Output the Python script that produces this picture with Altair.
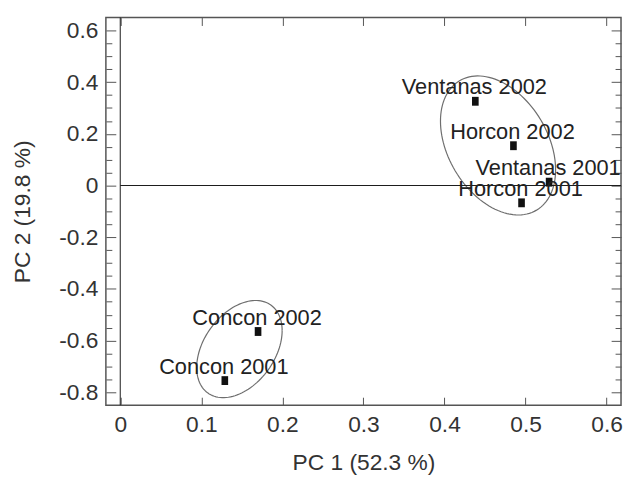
import altair as alt
import numpy as np
import pandas as pd

# ---- data ----
labels = ["Ventanas 2002", "Horcon 2002", "Ventanas 2001", "Horcon 2001", "Concon 2002", "Concon 2001"]
pc1 = [0.438, 0.485, 0.529, 0.495, 0.170, 0.129]
pc2 = [0.326, 0.154, 0.013, -0.067, -0.565, -0.755]

# group ellipses (centre, half-width, half-height, tilt correlation)
ell_group = ["Ventanas/Horcon", "Concon"]
ell_cx = [0.466, 0.147]
ell_cy = [0.155, -0.633]
ell_sx = [0.071, 0.0527]
ell_sy = [0.269, 0.188]
ell_rho = [-0.35, 0.38]

x_ticks = [0, 0.1, 0.2, 0.3, 0.4, 0.5, 0.6]
y_ticks = [-0.8, -0.6, -0.4, -0.2, 0, 0.2, 0.4, 0.6]
y_minor = [-0.8, -0.75, -0.7, -0.65, -0.6, -0.55, -0.5, -0.45, -0.4, -0.35, -0.3,
           -0.25, -0.2, -0.15, -0.1, -0.05, 0, 0.05, 0.1, 0.15, 0.2, 0.25, 0.3,
           0.35, 0.4, 0.45, 0.5, 0.55, 0.6]
x_domain = [-0.0177, 0.6177]
y_domain = [-0.85, 0.65]
x_title = "PC 1 (52.3 %)"
y_title = "PC 2 (19.8 %)"

W, H = 521, 392
FONT = "Liberation Sans"
FS = 23
TXT = "#333333"
FRAME = "#555555"

pts_df = pd.DataFrame({"label": labels, "pc1": pc1, "pc2": pc2})

rows = []
t = np.linspace(0, 2 * np.pi, 121)
for g, cx, cy, sx, sy, r in zip(ell_group, ell_cx, ell_cy, ell_sx, ell_sy, ell_rho):
    ex = cx + sx * np.cos(t)
    ey = cy + sy * (r * np.cos(t) + np.sqrt(1 - r * r) * np.sin(t))
    for i, (a, b) in enumerate(zip(ex, ey)):
        rows.append({"group": g, "i": i, "ex": a, "ey": b})
ell_df = pd.DataFrame(rows)

zero_df = pd.DataFrame({"x0": [0.0], "x1": [x_domain[1]], "y0": [0.0]})

xs = alt.Scale(domain=x_domain, nice=False, zero=False)
ys = alt.Scale(domain=y_domain, nice=False, zero=False)

major_test = "abs(datum.value * 5 - round(datum.value * 5)) < 0.001"
tick_cond = {"condition": {"test": major_test, "value": 10}, "value": 6}

def tick_axis(orient, offset, size, values):
    return alt.Axis(orient=orient, offset=offset, tickSize=size, values=values,
                    labels=False, domain=False, grid=False, title=None,
                    tickColor=FRAME, tickWidth=1)

ellipses = alt.Chart(ell_df).mark_line(color="#6e6e6e", strokeWidth=1.2).encode(
    x=alt.X("ex:Q", scale=xs, axis=tick_axis("top", -8, 8, x_ticks)),
    y=alt.Y("ey:Q", scale=ys, axis=tick_axis("right", -W, tick_cond, y_minor)),
    detail="group:N",
    order="i:Q",
)

hline = alt.Chart(zero_df).mark_rule(color="#1a1a1a", strokeWidth=1).encode(
    x=alt.X("x0:Q", scale=xs, axis=None),
    x2="x1:Q",
    y=alt.Y("y0:Q", scale=ys, axis=tick_axis("left", -W, tick_cond, y_minor)),
)

vline = alt.Chart(zero_df).mark_rule(color="#1a1a1a", strokeWidth=1).encode(
    x=alt.X("x0:Q", scale=xs, axis=None),
)

points = alt.Chart(pts_df).mark_point(
    shape="M-0.75,-1H0.75V1H-0.75Z", size=80, filled=True, color="#111111", opacity=1
).encode(
    x=alt.X("pc1:Q", scale=xs, axis=alt.Axis(
        orient="bottom", offset=-8, tickSize=8, values=x_ticks, labelExpr="'' + datum.value",
        domain=False, grid=False, tickColor=FRAME, labelPadding=9, title=x_title,
        titlePadding=15)),
    y=alt.Y("pc2:Q", scale=ys, axis=alt.Axis(
        orient="left", ticks=False, values=y_ticks, labelExpr="'' + datum.value",
        domain=False, grid=False, labelPadding=8, title=y_title, titlePadding=25)),
)

texts = alt.Chart(pts_df).mark_text(
    dy=-14, dx=-1, baseline="middle", align="center", font=FONT, fontSize=22, color="#222222"
).encode(
    x=alt.X("pc1:Q", scale=xs, axis=None),
    y=alt.Y("pc2:Q", scale=ys, axis=None),
    text="label:N",
)

chart = alt.layer(ellipses, hline, vline, points, texts).resolve_axis(
    x="independent", y="independent"
).properties(
    width=W, height=H,
    autosize=alt.AutoSizeParams(type="none"),
    padding={"left": 99, "top": 7, "right": 2, "bottom": 70},
    background="white",
).configure_view(
    stroke=FRAME, strokeWidth=1.5
).configure_axis(
    labelFont=FONT, labelFontSize=FS, labelColor=TXT,
    titleFont=FONT, titleFontSize=FS, titleColor=TXT, titleFontWeight="normal",
)

chart.save("out.html", embed_options={"renderer": "svg", "actions": False})
